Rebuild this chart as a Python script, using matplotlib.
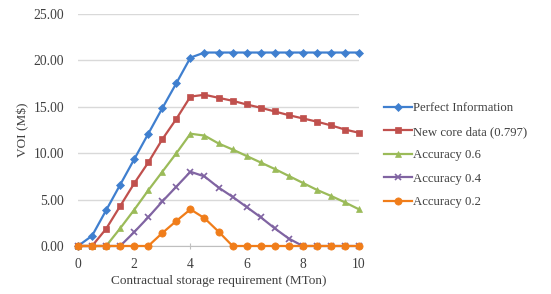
import matplotlib
matplotlib.use("Agg")
import matplotlib.pyplot as plt
import numpy as np

# x positions (MTon), step 0.5
storage = np.arange(0, 10.01, 0.5)

perfect = [0.00, 1.10, 3.85, 6.60, 9.35, 12.10, 14.85, 17.55, 20.30, 20.85,
           20.85, 20.85, 20.85, 20.85, 20.85, 20.85, 20.85, 20.85, 20.85, 20.85, 20.85]
core = [0.00, 0.00, 1.85, 4.30, 6.75, 9.00, 11.50, 13.70, 16.10, 16.30,
        15.97, 15.65, 15.25, 14.90, 14.50, 14.10, 13.75, 13.40, 13.00, 12.55, 12.20]
acc06 = [0.00, 0.00, 0.00, 1.90, 3.90, 6.00, 8.00, 10.00, 12.10, 11.90,
         11.05, 10.40, 9.70, 9.00, 8.30, 7.55, 6.80, 6.05, 5.40, 4.70, 3.95]
acc04 = [0.00, 0.00, 0.00, 0.00, 1.50, 3.10, 4.80, 6.40, 8.00, 7.50,
         6.30, 5.30, 4.20, 3.10, 1.90, 0.80, 0.00, 0.00, 0.00, 0.00, 0.00]
acc02 = [0.00, 0.00, 0.00, 0.00, 0.00, 0.00, 1.40, 2.70, 3.95, 3.00,
         1.55, 0.00, 0.00, 0.00, 0.00, 0.00, 0.00, 0.00, 0.00, 0.00, 0.00]

series = [
    ("Perfect Information", perfect, "#3F7FCF", "D", 3.8),
    ("New core data (0.797)", core, "#C0504D", "s", 4.2),
    ("Accuracy 0.6", acc06, "#9BBB59", "^", 4.8),
    ("Accuracy 0.4", acc04, "#8064A2", "x", 5),
    ("Accuracy 0.2", acc02, "#F07D1A", "o", 5.2),
]

plt.rcParams["font.family"] = ["Liberation Serif", "DejaVu Serif"]
TXT = "#404040"

fig = plt.figure(figsize=(5.51, 2.94), dpi=100)
ax = fig.add_axes([0.1416, 0.1633, 0.51, 0.789])

for label, vals, color, marker, ms in series:
    ax.plot(storage, vals, color=color, marker=marker, ms=ms, lw=1.6,
            mew=1.2 if marker == "x" else 0.5, label=label, clip_on=False,
            zorder=3)

ax.set_xlim(0, 10)
ax.set_ylim(0, 25)
ax.set_xticks(np.arange(0, 11, 2))
ax.set_yticks(np.arange(0, 26, 5))
ax.set_yticklabels([f"{v:.2f}" for v in np.arange(0, 26, 5)])
ax.grid(axis="y", color="#D9D9D9", lw=1)
ax.set_axisbelow(True)
for s in ("left", "right", "top"):
    ax.spines[s].set_visible(False)
ax.spines["bottom"].set_color("#BFBFBF")
ax.tick_params(axis="y", length=0, pad=10, labelsize=9.8, colors=TXT)
ax.tick_params(axis="x", length=5, direction="inout", color="#BFBFBF",
               labelsize=9.8, labelcolor=TXT, pad=6)

ax.set_xlabel("Contractual storage requirement (MTon)", fontsize=9.5,
              color=TXT, labelpad=3)
ax.set_ylabel("VOI (M$)", fontsize=9.5, color=TXT, labelpad=3)

fig.legend(loc="upper left", bbox_to_anchor=(0.697, 0.652), frameon=False,
           fontsize=9.2, handlelength=2.2, handletextpad=0.1,
           labelspacing=0.9, borderpad=0, borderaxespad=0,
           labelcolor=TXT)

fig.savefig("out.png", dpi=100)
